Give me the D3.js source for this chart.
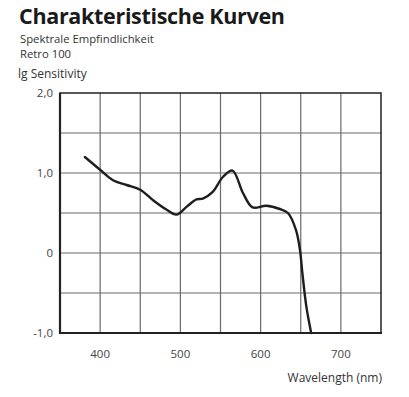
<!DOCTYPE html>
<html>
<head>
<meta charset="utf-8">
<script src="https://cdn.jsdelivr.net/npm/d3@7"></script>
<style>
  body { margin: 0; background: #fff; }
  svg { display: block; font-family: "Open Sans", "Noto Sans", sans-serif; }
</style>
</head>
<body>
<div id="chart"></div>
<script>
// Curve
const wavelengths = [381, 400, 416, 433, 450, 466, 483, 495, 508, 520, 528, 540, 553, 565, 578, 590, 607, 624, 634, 644, 649, 652, 657, 663];
const sensitivity = [1.20, 1.04, 0.91, 0.85, 0.79, 0.66, 0.54, 0.48, 0.58, 0.67, 0.68, 0.76, 0.95, 1.03, 0.75, 0.57, 0.59, 0.55, 0.50, 0.29, 0.04, -0.25, -0.67, -1.0];

const xTicks = [400, 500, 600, 700];
const xGrid = [400, 450, 500, 550, 600, 650, 700];
const yTicks = [-1, 0, 1, 2];
const yTickLabels = ['-1,0', '0', '1,0', '2,0'];
const yGrid = [-0.5, 0, 0.5, 1, 1.5];

const w = 409, h = 397;
const pLeft = 60, pRight = 381, pTop = 93, pBottom = 333;

const svg = d3.select('#chart').append('svg')
    .attr('width', w)
    .attr('height', h);

// Scales
const xScale = d3.scaleLinear().domain([350, 750]).range([pLeft, pRight]);
const yScale = d3.scaleLinear().domain([-1, 2]).range([pBottom, pTop]);

// Titles
svg.append('text')
    .attr('x', 19).attr('y', 24)
    .attr('font-size', 21.5).attr('font-weight', 'bold')
    .attr('fill', '#1a1a1a')
    .attr('textLength', 266)
    .text('Charakteristische Kurven');

svg.append('text').attr('x', 20).attr('y', 42.5)
    .attr('font-size', 11.3).attr('fill', '#333')
    .text('Spektrale Empfindlichkeit');

svg.append('text').attr('x', 20).attr('y', 58)
    .attr('font-size', 11.3).attr('fill', '#333')
    .text('Retro 100');

svg.append('text').attr('x', 18).attr('y', 78)
    .attr('font-size', 12).attr('fill', '#333')
    .text('lg Sensitivity');

// Grid
svg.append('g').selectAll('line')
    .data(xGrid).enter().append('line')
    .attr('x1', d => xScale(d)).attr('x2', d => xScale(d))
    .attr('y1', pTop).attr('y2', pBottom)
    .attr('stroke', '#6a6a6a').attr('stroke-width', 1.2);

svg.append('g').selectAll('line')
    .data(yGrid).enter().append('line')
    .attr('x1', pLeft).attr('x2', pRight)
    .attr('y1', d => yScale(d)).attr('y2', d => yScale(d))
    .attr('stroke', '#6a6a6a').attr('stroke-width', 1.2);

// Frame
svg.append('rect')
    .attr('x', pLeft).attr('y', pTop)
    .attr('width', pRight - pLeft).attr('height', pBottom - pTop)
    .attr('fill', 'none').attr('stroke', '#222').attr('stroke-width', 1.5);

svg.append('line')
    .attr('x1', pLeft).attr('x2', pLeft).attr('y1', pTop).attr('y2', pBottom + 1)
    .attr('stroke', '#222').attr('stroke-width', 2.2);
svg.append('line')
    .attr('x1', pLeft).attr('x2', pRight + 1).attr('y1', pBottom).attr('y2', pBottom)
    .attr('stroke', '#222').attr('stroke-width', 2.2);

// Tick labels
svg.append('g').selectAll('text')
    .data(yTicks).enter().append('text')
    .attr('x', 53)
    .attr('y', d => yScale(d) + 4)
    .attr('text-anchor', 'end')
    .attr('font-size', 11.5).attr('fill', '#444')
    .text((d, i) => yTickLabels[i]);

svg.append('g').selectAll('text')
    .data(xTicks).enter().append('text')
    .attr('x', d => xScale(d))
    .attr('y', 358)
    .attr('text-anchor', 'middle')
    .attr('font-size', 11.5).attr('fill', '#444')
    .text(d => d);

svg.append('text')
    .attr('x', 382).attr('y', 382)
    .attr('text-anchor', 'end')
    .attr('font-size', 12).attr('fill', '#333')
    .text('Wavelength (nm)');

// Curve
const line = d3.line()
    .x(d => xScale(d[0]))
    .y(d => yScale(d[1]))
    .curve(d3.curveCatmullRom.alpha(0.5));

svg.append('path')
    .datum(wavelengths.map((d, i) => [d, sensitivity[i]]))
    .attr('d', line)
    .attr('fill', 'none')
    .attr('stroke', '#1e1e1e')
    .attr('stroke-width', 2.4)
    .attr('stroke-linecap', 'round');
</script>
</body>
</html>
